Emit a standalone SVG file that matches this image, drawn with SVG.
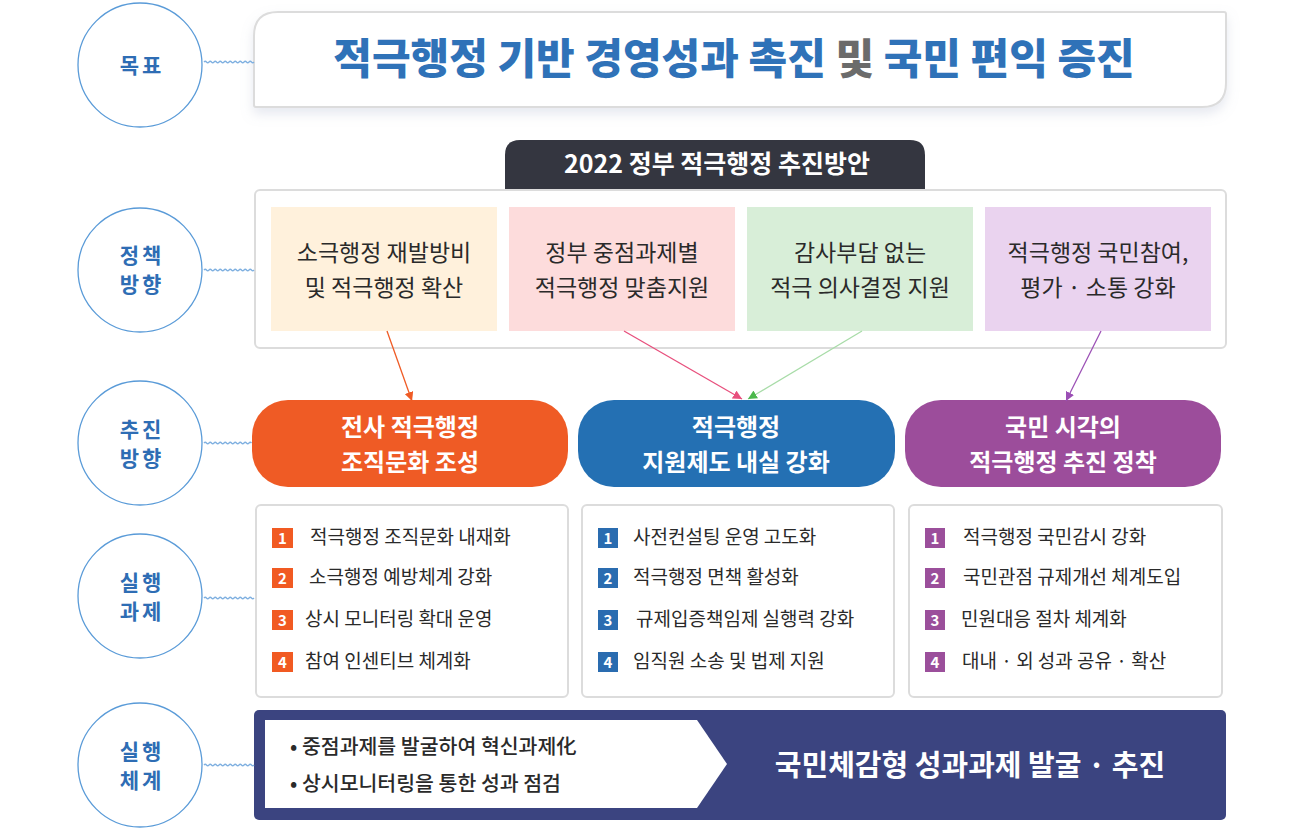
<svg xmlns="http://www.w3.org/2000/svg" width="1300" height="833" viewBox="0 0 1300 833">
<defs>
<style>
text{font-family:"Noto Sans CJK KR","Noto Sans",sans-serif;}
.circ{fill:#fff;stroke:#5a9bd8;stroke-width:1.3;}
.ctxt{fill:#2e6db4;font-size:21px;font-weight:700;text-anchor:middle;letter-spacing:3px;}
.wave{fill:none;stroke:#7fb0e0;stroke-width:1.3;}
.box{fill:#fff;stroke:#dcdcdc;stroke-width:2;}
.ptxt{fill:#2a2a2a;font-size:23px;font-weight:400;text-anchor:middle;}
.pill{font-size:24px;font-weight:700;fill:#fff;text-anchor:middle;}
.item{fill:#2a2a2a;font-size:19px;font-weight:400;}
.num{fill:#fff;font-size:15px;font-weight:700;text-anchor:middle;}
</style>
<filter id="sh" x="-5%" y="-20%" width="110%" height="150%">
<feDropShadow dx="0" dy="6" stdDeviation="6" flood-color="#9aa4c0" flood-opacity="0.25"/>
</filter>
<marker id="mO" viewBox="0 0 10 10" refX="10" refY="5" markerWidth="9" markerHeight="9" markerUnits="userSpaceOnUse" orient="auto"><path d="M0,0 L10,5 L0,10 z" fill="#ef5b25"/></marker>
<marker id="mP" viewBox="0 0 10 10" refX="10" refY="5" markerWidth="9" markerHeight="9" markerUnits="userSpaceOnUse" orient="auto"><path d="M0,0 L10,5 L0,10 z" fill="#e8507d"/></marker>
<marker id="mG" viewBox="0 0 10 10" refX="10" refY="5" markerWidth="9" markerHeight="9" markerUnits="userSpaceOnUse" orient="auto"><path d="M0,0 L10,5 L0,10 z" fill="#4cb84c"/></marker>
<marker id="mV" viewBox="0 0 10 10" refX="10" refY="5" markerWidth="9" markerHeight="9" markerUnits="userSpaceOnUse" orient="auto"><path d="M0,0 L10,5 L0,10 z" fill="#9b4fb5"/></marker>
</defs>
<rect width="1300" height="833" fill="#fff"/>

<!-- left circles -->
<g id="label-goal">
<circle class="circ" cx="140" cy="65" r="62"/>
<text class="ctxt" x="142" y="73">목표</text>
</g>
<g id="label-policy">
<circle class="circ" cx="140" cy="270" r="62"/>
<text class="ctxt" x="142" y="263">정책</text>
<text class="ctxt" x="142" y="292">방향</text>
</g>
<g id="label-direction">
<circle class="circ" cx="140" cy="443" r="62"/>
<text class="ctxt" x="142" y="437">추진</text>
<text class="ctxt" x="142" y="466">방향</text>
</g>
<g id="label-tasks">
<circle class="circ" cx="140" cy="596" r="62"/>
<text class="ctxt" x="142" y="590">실행</text>
<text class="ctxt" x="142" y="619">과제</text>
</g>
<g id="label-system">
<circle class="circ" cx="140" cy="765" r="62"/>
<text class="ctxt" x="142" y="759">실행</text>
<text class="ctxt" x="142" y="788">체계</text>
</g>

<!-- goal -->
<g id="goal">
<path d="M278,12 L1224,12 Q1226,12 1226,14 L1226,83 Q1226,107 1202,107 L256,107 Q254,107 254,105 L254,36 Q254,12 278,12 Z" fill="#fff" stroke="#dcdcdc" stroke-width="2" filter="url(#sh)"/>
<text x="734" y="74" text-anchor="middle" font-size="42" font-weight="900" fill="#2f72b8">적극행정 기반 경영성과 촉진 <tspan fill="#6b6b6b">및</tspan> 국민 편익 증진</text>
</g>

<!-- policy -->
<g id="policy-tab">
<path d="M505,190 L505,155 Q505,140 520,140 L910,140 Q925,140 925,155 L925,190 Z" fill="#343640"/>
<text x="717" y="173" text-anchor="middle" font-size="25" font-weight="700" fill="#fff">2022 정부 적극행정 추진방안</text>
</g>
<g id="policy-container">
<rect class="box" x="255" y="190" width="971" height="158" rx="5"/>
</g>
<g id="policy-1">
<rect x="271" y="207" width="226" height="124" fill="#fff1dc"/>
<text class="ptxt" x="384" y="261">소극행정 재발방비</text>
<text class="ptxt" x="384" y="296">및 적극행정 확산</text>
</g>
<g id="policy-2">
<rect x="509" y="207" width="226" height="124" fill="#fddcdc"/>
<text class="ptxt" x="622" y="261">정부 중점과제별</text>
<text class="ptxt" x="622" y="296">적극행정 맞춤지원</text>
</g>
<g id="policy-3">
<rect x="747" y="207" width="226" height="124" fill="#d8eed8"/>
<text class="ptxt" x="860" y="261">감사부담 없는</text>
<text class="ptxt" x="860" y="296">적극 의사결정 지원</text>
</g>
<g id="policy-4">
<rect x="985" y="207" width="226" height="124" fill="#ead3ef"/>
<text class="ptxt" x="1098" y="261">적극행정 국민참여,</text>
<text class="ptxt" x="1098" y="296">평가 · 소통 강화</text>
</g>

<!-- directions -->
<g id="dir-1">
<rect x="252" y="400" width="316" height="87" rx="36" fill="#ef5b25"/>
<text class="pill" x="410" y="436">전사 적극행정</text>
<text class="pill" x="410" y="471">조직문화 조성</text>
</g>
<g id="dir-2">
<rect x="578" y="400" width="317" height="87" rx="36" fill="#2470b3"/>
<text class="pill" x="736" y="436">적극행정</text>
<text class="pill" x="736" y="471">지원제도 내실 강화</text>
</g>
<g id="dir-3">
<rect x="905" y="400" width="316" height="87" rx="36" fill="#9c4d9b"/>
<text class="pill" x="1063" y="436">국민 시각의</text>
<text class="pill" x="1063" y="471">적극행정 추진 정착</text>
</g>

<!-- task lists -->
<g id="tasks-1">
<rect class="box" x="256" y="505" width="312" height="192" rx="5"/>
<g fill="#f15a22">
<rect x="272" y="528" width="21" height="20"/>
<rect x="272" y="568" width="21" height="20"/>
<rect x="272" y="610" width="21" height="20"/>
<rect x="272" y="652" width="21" height="20"/>
</g>
<text class="num" x="282.5" y="543.5">1</text>
<text class="num" x="282.5" y="583.5">2</text>
<text class="num" x="282.5" y="625.5">3</text>
<text class="num" x="282.5" y="667.5">4</text>
<text class="item" x="310" y="544">적극행정 조직문화 내재화</text>
<text class="item" x="309" y="584">소극행정 예방체계 강화</text>
<text class="item" x="305" y="626">상시 모니터링 확대 운영</text>
<text class="item" x="305" y="668">참여 인센티브 체계화</text>
</g>
<g id="tasks-2">
<rect class="box" x="582" y="505" width="312" height="192" rx="5"/>
<g fill="#2a6cb0">
<rect x="598" y="528" width="20" height="20"/>
<rect x="598" y="568" width="20" height="20"/>
<rect x="598" y="610" width="20" height="20"/>
<rect x="598" y="652" width="20" height="20"/>
</g>
<text class="num" x="608" y="543.5">1</text>
<text class="num" x="608" y="583.5">2</text>
<text class="num" x="608" y="625.5">3</text>
<text class="num" x="608" y="667.5">4</text>
<text class="item" x="633" y="544">사전컨설팅 운영 고도화</text>
<text class="item" x="633" y="584">적극행정 면책 활성화</text>
<text class="item" x="636" y="626">규제입증책임제 실행력 강화</text>
<text class="item" x="633" y="668">임직원 소송 및 법제 지원</text>
</g>
<g id="tasks-3">
<rect class="box" x="909" y="505" width="313" height="192" rx="5"/>
<g fill="#9b4f9b">
<rect x="925" y="528" width="20" height="20"/>
<rect x="925" y="568" width="20" height="20"/>
<rect x="925" y="610" width="20" height="20"/>
<rect x="925" y="652" width="20" height="20"/>
</g>
<text class="num" x="935" y="543.5">1</text>
<text class="num" x="935" y="583.5">2</text>
<text class="num" x="935" y="625.5">3</text>
<text class="num" x="935" y="667.5">4</text>
<text class="item" x="963" y="544">적극행정 국민감시 강화</text>
<text class="item" x="963" y="584">국민관점 규제개선 체계도입</text>
<text class="item" x="961" y="626">민원대응 절차 체계화</text>
<text class="item" x="962" y="668">대내 · 외 성과 공유 · 확산</text>
</g>

<!-- system -->
<g id="system">
<rect x="254" y="710" width="972" height="110" rx="5" fill="#3b4480"/>
<path d="M265,720 L697,720 L727,764 L697,808 L265,808 Z" fill="#fff"/>
<text x="290" y="754" font-size="20.5" font-weight="500" fill="#2a2a2a">• 중점과제를 발굴하여 혁신과제化</text>
<text x="290" y="791" font-size="20.5" font-weight="500" fill="#2a2a2a">• 상시모니터링을 통한 성과 점검</text>
<text x="970" y="776" text-anchor="middle" font-size="29" font-weight="700" fill="#fff">국민체감형 성과과제 발굴 · 추진</text>
</g>

<!-- connectors -->
<g id="connectors">
<path class="wave" d="M204,62 q1.25,-1.5 2.5,0 t2.5,0 t2.5,0 t2.5,0 t2.5,0 t2.5,0 t2.5,0 t2.5,0 t2.5,0 t2.5,0 t2.5,0 t2.5,0 t2.5,0 t2.5,0 t2.5,0 t2.5,0 t2.5,0 t2.5,0 t2.5,0 t2.5,0"/>
<path class="wave" d="M204,270 q1.25,-1.5 2.5,0 t2.5,0 t2.5,0 t2.5,0 t2.5,0 t2.5,0 t2.5,0 t2.5,0 t2.5,0 t2.5,0 t2.5,0 t2.5,0 t2.5,0 t2.5,0 t2.5,0 t2.5,0 t2.5,0 t2.5,0 t2.5,0 t2.5,0"/>
<path class="wave" d="M204,443 q1.25,-1.5 2.5,0 t2.5,0 t2.5,0 t2.5,0 t2.5,0 t2.5,0 t2.5,0 t2.5,0 t2.5,0 t2.5,0 t2.5,0 t2.5,0 t2.5,0 t2.5,0 t2.5,0 t2.5,0 t2.5,0 t2.5,0 t2.5,0"/>
<path class="wave" d="M204,598 q1.25,-1.5 2.5,0 t2.5,0 t2.5,0 t2.5,0 t2.5,0 t2.5,0 t2.5,0 t2.5,0 t2.5,0 t2.5,0 t2.5,0 t2.5,0 t2.5,0 t2.5,0 t2.5,0 t2.5,0 t2.5,0 t2.5,0 t2.5,0 t2.5,0"/>
<path class="wave" d="M204,765 q1.25,-1.5 2.5,0 t2.5,0 t2.5,0 t2.5,0 t2.5,0 t2.5,0 t2.5,0 t2.5,0 t2.5,0 t2.5,0 t2.5,0 t2.5,0 t2.5,0 t2.5,0 t2.5,0 t2.5,0 t2.5,0 t2.5,0 t2.5,0 t2.5,0"/>
<line x1="387" y1="331" x2="412" y2="401" stroke="#ef5b25" stroke-width="1.3" marker-end="url(#mO)"/>
<line x1="624" y1="331" x2="742" y2="399" stroke="#e8507d" stroke-width="1.3" marker-end="url(#mP)"/>
<line x1="862" y1="331" x2="748" y2="399" stroke="#a8dca8" stroke-width="1.3" marker-end="url(#mG)"/>
<line x1="1101" y1="331" x2="1066" y2="401" stroke="#9b4fb5" stroke-width="1.3" marker-end="url(#mV)"/>
</g>
</svg>
